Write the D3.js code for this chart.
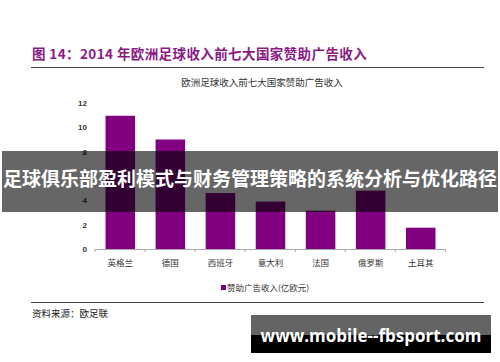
<!doctype html>
<html>
<head>
<meta charset="utf-8">
<script src="https://d3js.org/d3.v7.min.js"></script>
<style>
  body { margin: 0; background: #fff; }
  svg { display: block; }
</style>
</head>
<body>
<svg width="500" height="362" id="chart"></svg>
<script>
// data
var countries = ["英格兰", "德国", "西班牙", "意大利", "法国", "俄罗斯", "土耳其"];
var revenue = [10.95, 9.0, 4.6, 3.9, 3.15, 4.8, 1.75];
var yTicks = [0, 2, 4, 6, 8, 10, 12];

var svg = d3.select("#chart");
var cjk = "'Noto Sans CJK SC', 'Noto Sans', sans-serif";

// figure title + rules
svg.append("text")
  .attr("x", 32).attr("y", 59)
  .style("font-family", cjk)
  .style("font-weight", "bold")
  .style("font-size", "13.5px")
  .style("letter-spacing", "0.4px")
  .style("fill", "#8a1a86")
  .text("图  14：2014 年欧洲足球收入前七大国家赞助广告收入");

svg.append("line")
  .attr("x1", 31).attr("x2", 484).attr("y1", 67.5).attr("y2", 67.5)
  .style("stroke", "#444").style("stroke-width", 1);

svg.append("text")
  .attr("x", 262).attr("y", 86)
  .attr("text-anchor", "middle")
  .style("font-family", cjk)
  .style("font-size", "9.5px")
  .style("fill", "#333")
  .text("欧洲足球收入前七大国家赞助广告收入");

// scales
var x = d3.scaleBand().domain(countries).range([95, 446])
  .paddingInner(0.41).paddingOuter(0.21);
var y = d3.scaleLinear().domain([0, 12]).range([249, 103]);

// y axis (labels only)
var yAxis = svg.append("g")
  .attr("transform", "translate(90,0)")
  .call(d3.axisLeft(y).tickValues(yTicks).tickSize(0).tickPadding(3));
yAxis.select(".domain").remove();
yAxis.selectAll("text")
  .style("font-family", "'Liberation Sans', Arial, sans-serif")
  .style("font-size", "8px")
  .style("font-weight", "bold")
  .style("fill", "#333");

// bars
svg.append("g")
  .selectAll("rect")
  .data(revenue)
  .enter()
  .append("rect")
  .attr("x", function (d, i) { return x(countries[i]); })
  .attr("y", function (d) { return y(d); })
  .attr("width", x.bandwidth())
  .attr("height", function (d) { return y(0) - y(d); })
  .style("fill", "#800080");

// x axis line with boundary ticks
svg.append("line")
  .attr("x1", 95).attr("x2", 446).attr("y1", y(0) + 0.5).attr("y2", y(0) + 0.5)
  .style("stroke", "#aaa");
svg.append("g")
  .selectAll("line")
  .data(d3.range(countries.length + 1))
  .enter()
  .append("line")
  .attr("x1", function (k) { return 95 + k * x.step(); })
  .attr("x2", function (k) { return 95 + k * x.step(); })
  .attr("y1", y(0)).attr("y2", y(0) + 3)
  .style("stroke", "#aaa");

svg.append("g")
  .selectAll("text")
  .data(countries)
  .enter()
  .append("text")
  .attr("x", function (d) { return x(d) + x.bandwidth() / 2; })
  .attr("y", 266)
  .attr("text-anchor", "middle")
  .style("font-family", cjk)
  .style("font-size", "8.5px")
  .style("fill", "#333")
  .text(function (d) { return d; });

// legend
svg.append("rect")
  .attr("x", 221).attr("y", 285).attr("width", 5).attr("height", 5)
  .style("fill", "#800080");
svg.append("text")
  .attr("x", 227).attr("y", 290.5)
  .style("font-family", cjk)
  .style("font-size", "8.5px")
  .style("fill", "#333")
  .text("赞助广告收入(亿欧元)");

// bottom rule + source
svg.append("line")
  .attr("x1", 31).attr("x2", 484).attr("y1", 302.5).attr("y2", 302.5)
  .style("stroke", "#444").style("stroke-width", 1);
svg.append("text")
  .attr("x", 32).attr("y", 317)
  .style("font-family", cjk)
  .style("font-size", "9.5px")
  .style("fill", "#222")
  .text("资料来源：欧足联");

// banner overlay
svg.append("rect")
  .attr("x", 2).attr("y", 151).attr("width", 496).attr("height", 61)
  .style("fill", "rgba(0,0,0,0.6)");
svg.append("text")
  .attr("x", 250).attr("y", 185.5)
  .attr("text-anchor", "middle")
  .style("font-family", cjk)
  .style("font-weight", "bold")
  .style("font-size", "19px")
  .style("fill", "#fff")
  .text("足球俱乐部盈利模式与财务管理策略的系统分析与优化路径");

// watermark box
svg.append("rect")
  .attr("x", 251).attr("y", 315).attr("width", 240).attr("height", 38)
  .style("fill", "#000");
svg.append("rect")
  .attr("x", 251).attr("y", 315).attr("width", 240).attr("height", 20)
  .style("fill", "#646464");
svg.append("text")
  .attr("x", 371).attr("y", 342)
  .attr("text-anchor", "middle")
  .style("font-family", "'Open Sans', 'DejaVu Sans', sans-serif")
  .style("font-weight", "bold")
  .style("font-size", "17px")
  .style("fill", "#fff")
  .text("www.mobile--fbsport.com");
</script>
</body>
</html>
